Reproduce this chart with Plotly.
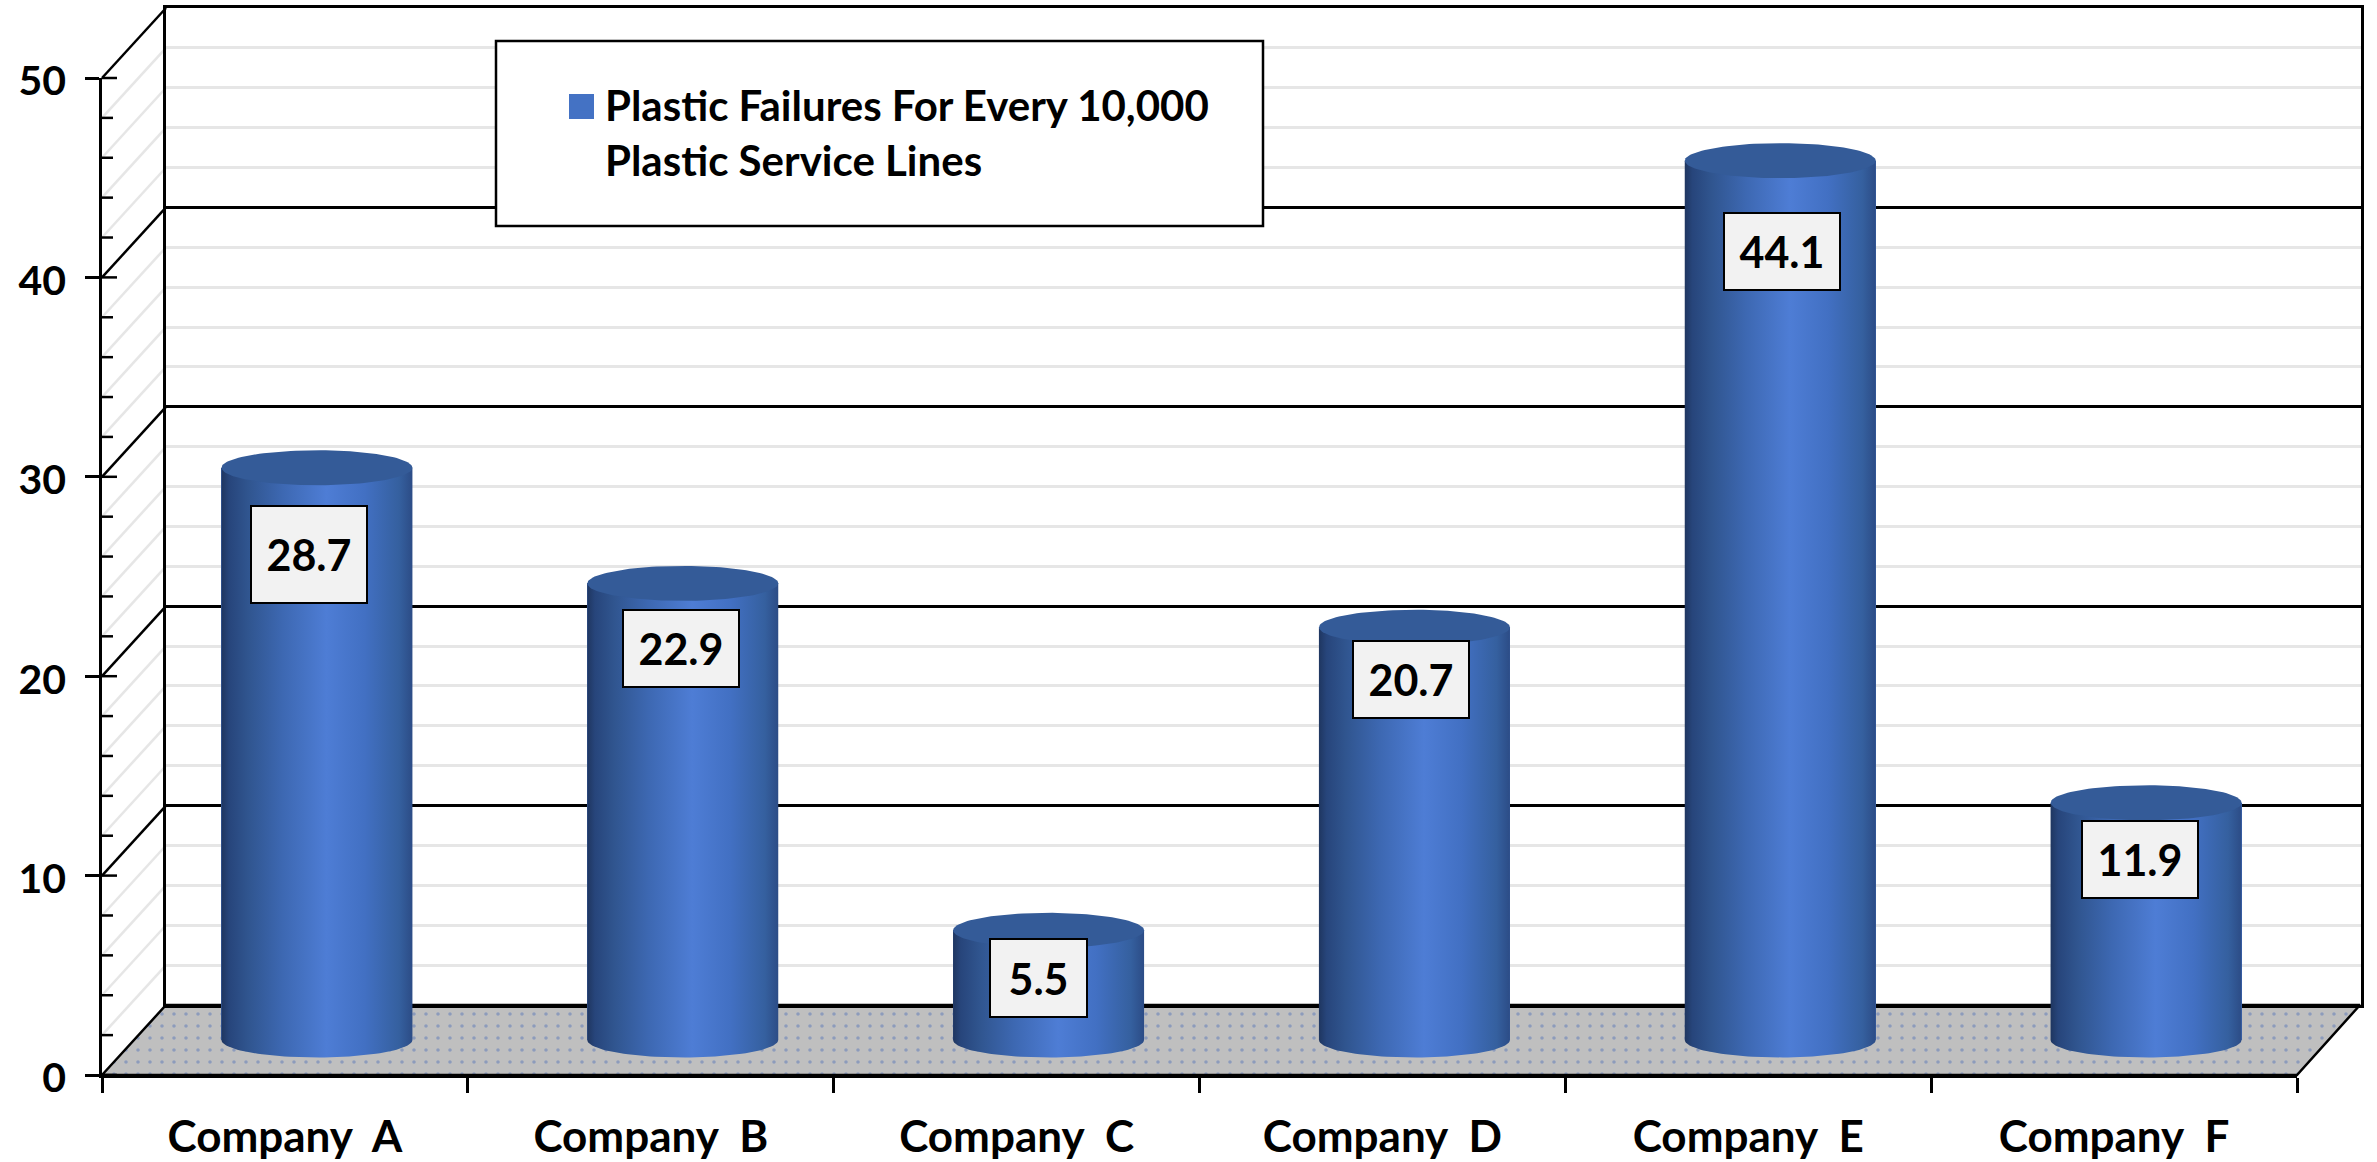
import numpy as np
import plotly.graph_objects as go

categories = ["Company  A", "Company  B", "Company  C", "Company  D", "Company  E", "Company  F"]
failures = [28.7, 22.9, 5.5, 20.7, 44.1, 11.9]
series_name = "Plastic Failures For Every 10,000<br>Plastic Service Lines"
label_drop_px = [87, 65.5, 48, 52, 91, 57]      # how far each value box sits below its cylinder top
label_shift_px = [-8, -2, -10, -3, 2, -6.5]     # sideways nudge of each value box
label_height_px = [97, 77, 78, 77, 77, 77]
label_width_px = [116, 116, 97, 116, 116, 116]

W, H = 2377, 1162
FRONT_L, FRONT_R, FRONT_B, FRONT_T = 102, 2297, 1075, 78
DX, DY = 64, -70          # depth of the box
RY = 17.5                 # cylinder ellipse half height, px
BAR_W = 191 / ((FRONT_R - FRONT_L) / 6)
PX_PER_UNIT = (FRONT_B - FRONT_T) / 50
BELOW = 3                 # room under zero on the cylinder plane for the base ellipse
FONT = "Lato"
BLUE = "#4472C4"
TOP = "#345B98"
GRID = "#E6E6E6"
BODY = [[0, "#1F3660"], [0.04, "#27457B"], [0.14, "#30558F"], [0.32, "#3D68B2"],
        [0.55, "#4E7DD5"], [0.75, "#4270C3"], [0.93, "#35609F"], [1, "#2C4C86"]]


def xd(l, r):
    return [l / W, r / W]


def yd(b, t):
    return [1 - b / H, 1 - t / H]


fig = go.Figure()
ghost = dict(mode="markers", marker=dict(opacity=0, size=1), hoverinfo="skip", showlegend=False)

# ---- subplot 1: page-pixel layer for the box furniture
fx = [FRONT_L, FRONT_L + DX, FRONT_R + DX - 1, FRONT_R, FRONT_L]
fy = [FRONT_B, FRONT_B + DY, FRONT_B + DY, FRONT_B, FRONT_B]
fig.add_trace(go.Scatter(x=fx, y=fy, mode="lines", fill="toself", line=dict(color="black", width=2.5),
                         fillcolor="#BFBFBF",
                         fillpattern=dict(shape=".", size=12, solidity=0.07, fgcolor="#5A78B8", bgcolor="#BFBFBF"),
                         hoverinfo="skip", showlegend=False, xaxis="x", yaxis="y"))
for tick in range(0, 51, 2):
    py = FRONT_B - tick * PX_PER_UNIT
    major = tick % 10 == 0
    if tick == 0:
        continue
    fig.add_trace(go.Scatter(x=[FRONT_L, FRONT_L + DX], y=[py, py + DY], mode="lines",
                             line=dict(color="black" if major else GRID, width=2.5),
                             hoverinfo="skip", showlegend=False, xaxis="x", yaxis="y"))
    fig.add_trace(go.Scatter(x=[FRONT_L, FRONT_L + (15 if major else 11)], y=[py, py], mode="lines",
                             line=dict(color="black", width=2.5),
                             hoverinfo="skip", showlegend=False, xaxis="x", yaxis="y"))
fig.add_trace(go.Scatter(x=[FRONT_L, FRONT_L + 15], y=[FRONT_B, FRONT_B], mode="lines",
                         line=dict(color="black", width=2.5), hoverinfo="skip", showlegend=False, xaxis="x", yaxis="y"))

# ---- subplot 2: back wall with its gridlines
fig.add_trace(go.Scatter(x=[0], y=[0], xaxis="x2", yaxis="y2", **ghost))

# ---- subplot 3: front axes, carries the tick labels
fig.add_trace(go.Scatter(x=categories, y=failures, xaxis="x3", yaxis="y3", **ghost))

# ---- subplot 4: mid-depth plane where the cylinders stand
idx = list(range(len(categories)))
fig.add_trace(go.Bar(x=idx, y=failures, width=BAR_W, marker=dict(color=BLUE, line=dict(width=0)),
                     name=series_name, showlegend=True, hoverinfo="skip", xaxis="x4", yaxis="y4"))
t = np.linspace(0, np.pi, 60)
ry_units = RY / PX_PER_UNIT
for i, v in zip(idx, failures):
    ex = i + BAR_W / 2 * np.cos(t)
    ey = -ry_units * np.sin(t)
    body_x = np.concatenate([ex, [i - BAR_W / 2, i + BAR_W / 2, i + BAR_W / 2]])
    body_y = np.concatenate([ey, [v, v, 0]])
    fig.add_trace(go.Scatter(x=body_x, y=body_y, mode="lines", line=dict(width=0), fill="toself",
                             fillgradient=dict(type="horizontal", colorscale=BODY),
                             hoverinfo="skip", showlegend=False, xaxis="x4", yaxis="y4"))
    tt = np.linspace(0, 2 * np.pi, 120)
    fig.add_trace(go.Scatter(x=i + BAR_W / 2 * np.cos(tt), y=v + ry_units * np.sin(tt), mode="lines",
                             line=dict(width=0), fill="toself", fillcolor=TOP,
                             hoverinfo="skip", showlegend=False, xaxis="x4", yaxis="y4"))
    fig.add_annotation(x=i, y=v, xref="x4", yref="y4", xshift=label_shift_px[i], yshift=-label_drop_px[i],
                       text=f"<b>{v}</b>",
                       showarrow=False, bgcolor="#F2F2F2", bordercolor="black", borderwidth=2,
                       width=label_width_px[i] - 4, height=label_height_px[i] - 4, align="center", valign="middle",
                       font=dict(family=FONT, size=43, color="black"))

# Legend box is wider than Plotly's own legend frame, so the frame sits behind it
shapes = [dict(type="rect", xref="paper", yref="paper", x0=496 / W, x1=1263 / W, y0=1 - 226 / H, y1=1 - 41 / H,
               fillcolor="white", line=dict(color="black", width=2.5), layer="above"),
          dict(type="rect", xref="paper", yref="paper", x0=569 / W, x1=594 / W, y0=1 - 119 / H, y1=1 - 94 / H,
               fillcolor=BLUE, line=dict(width=0), layer="above")]

hidden = dict(visible=False, fixedrange=True)
fig.update_layout(
    width=W, height=H, margin=dict(l=0, r=0, t=0, b=0, autoexpand=False), autosize=False,
    paper_bgcolor="white", plot_bgcolor="rgba(0,0,0,0)", shapes=shapes, bargap=0,
    font=dict(family=FONT),
    showlegend=True,
    legend=dict(x=565 / W, y=1 - 71 / H, xanchor="left", yanchor="top", bgcolor="rgba(0,0,0,0)", borderwidth=0,
                valign="top",
                font=dict(family=FONT, size=42, color="black", weight="bold"), itemclick=False, itemdoubleclick=False),
    xaxis=dict(domain=[0, 1], range=[0, W], anchor="y", **hidden),
    yaxis=dict(domain=[0, 1], range=[H, 0], anchor="x", **hidden),
    xaxis2=dict(domain=xd(FRONT_L + DX, FRONT_R + DX), range=[0, 6], anchor="y2", showgrid=False, zeroline=False,
                showticklabels=False, ticks="", showline=True, mirror=True, linecolor="black", linewidth=2.5, fixedrange=True),
    yaxis2=dict(domain=yd(FRONT_B + DY, FRONT_T + DY), range=[0, 50], anchor="x2", showticklabels=False, ticks="",
                dtick=10, showgrid=True, gridcolor="black", gridwidth=2.5, zeroline=False,
                minor=dict(dtick=2, showgrid=True, gridcolor=GRID, gridwidth=2.5, ticks=""),
                showline=True, mirror=True, linecolor="black", linewidth=2.5, fixedrange=True),
    xaxis3=dict(domain=xd(FRONT_L, FRONT_R), type="category", categoryorder="array", categoryarray=categories,
                range=[-0.5, 5.5], anchor="y3", tickson="boundaries", ticks="outside", ticklen=15, tickwidth=2.5,
                tickcolor="black", showgrid=False, zeroline=False, showline=True, linecolor="black", linewidth=2.5,
                tickfont=dict(family=FONT, size=44, color="black", weight="bold"), ticklabelstandoff=21, fixedrange=True),
    yaxis3=dict(domain=yd(FRONT_B, FRONT_T), range=[0, 50], anchor="x3", dtick=10, ticks="outside", ticklen=14,
                tickwidth=2.5, tickcolor="black", showgrid=False, zeroline=False, showline=True, linecolor="black",
                linewidth=2.5, tickfont=dict(family=FONT, size=41, color="black", weight="bold"), ticklabelstandoff=11,
                ticklabelshift=3, fixedrange=True),
    xaxis4=dict(domain=xd(FRONT_L + DX / 2, FRONT_R + DX / 2), range=[-0.5, 5.5], anchor="y4", **hidden),
    yaxis4=dict(domain=yd(FRONT_B - 35 + BELOW * PX_PER_UNIT, FRONT_T - 35), range=[-BELOW, 50], anchor="x4", **hidden),
)

fig.write_html("out.html", config=dict(displayModeBar=False),
               post_script="document.body.style.margin='0';document.body.style.overflow='hidden';")
